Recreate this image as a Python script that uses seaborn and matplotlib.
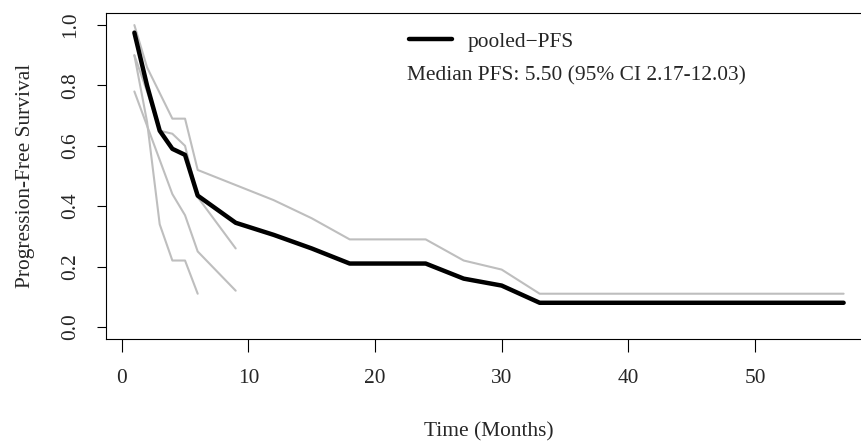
import pandas as pd
import matplotlib
matplotlib.use("Agg")
import matplotlib.pyplot as plt
import seaborn as sns

# per-study PFS curves (months, survival)
study_a_time = [1, 2, 4, 5, 6, 9, 12, 15, 18, 24, 27, 30, 33, 57]
study_a_surv = [1.00, 0.86, 0.69, 0.69, 0.52, 0.47, 0.42, 0.36, 0.29, 0.29, 0.22, 0.19, 0.11, 0.11]
study_b_time = [1, 2, 3, 4, 5, 6, 9]
study_b_surv = [0.90, 0.78, 0.65, 0.64, 0.60, 0.43, 0.26]
study_c_time = [1, 4, 5, 6, 9]
study_c_surv = [0.78, 0.44, 0.37, 0.25, 0.12]
study_d_time = [1, 2, 3, 4, 5, 6]
study_d_surv = [0.90, 0.68, 0.34, 0.22, 0.22, 0.11]

# pooled curve
pooled_time = [1, 2, 3, 4, 5, 6, 9, 12, 15, 18, 24, 27, 30, 33, 57]
pooled_surv = [0.975, 0.80, 0.65, 0.59, 0.57, 0.435, 0.345, 0.305, 0.26, 0.21, 0.21, 0.16, 0.137, 0.08, 0.08]

x_ticks = [0, 10, 20, 30, 40, 50]
y_ticks = [0.0, 0.2, 0.4, 0.6, 0.8, 1.0]
median_text = "Median PFS: 5.50 (95% CI 2.17-12.03)"

studies = pd.concat([
    pd.DataFrame({"time": study_a_time, "surv": study_a_surv, "study": "A"}),
    pd.DataFrame({"time": study_b_time, "surv": study_b_surv, "study": "B"}),
    pd.DataFrame({"time": study_c_time, "surv": study_c_surv, "study": "C"}),
    pd.DataFrame({"time": study_d_time, "surv": study_d_surv, "study": "D"}),
])
pooled = pd.DataFrame({"time": pooled_time, "surv": pooled_surv})

sns.set_style("ticks")
plt.rcParams["font.family"] = ["Liberation Serif", "DejaVu Serif"]
fs = 15.4

fig = plt.figure(figsize=(8.62, 4.41), dpi=100)
ax = fig.add_axes([106 / 862, 102 / 441, 766 / 862, 326 / 441])

sns.lineplot(data=studies, x="time", y="surv", units="study", estimator=None,
             color="#bebebe", linewidth=1.5, ax=ax, legend=False)
sns.lineplot(data=pooled, x="time", y="surv", color="black", linewidth=3.2,
             label="pooled\u2212PFS", ax=ax)

ax.set_xlim(-1.24, 59.24)
ax.set_ylim(-0.04, 1.04)
ax.set_xticks(x_ticks)
ax.set_yticks(y_ticks)
ax.set_yticklabels([f"{v:.1f}" for v in y_ticks], rotation=90, va="center")
ax.tick_params(axis="x", length=9.5, width=0.8, pad=12, labelsize=fs, color="black")
ax.tick_params(axis="y", length=6.5, width=0.8, pad=12, labelsize=fs, color="black")
for s in ax.spines.values():
    s.set_color("black")
    s.set_linewidth(0.8)

ax.set_xlabel("Time (Months)", fontsize=fs, labelpad=25)
ax.set_ylabel("Progression-Free Survival", fontsize=fs, labelpad=19)

ax.legend(loc="upper left", bbox_to_anchor=((409 - 106) / 766, (339 - 32) / 326),
          frameon=False, fontsize=fs, handlelength=2.0, handletextpad=0.75,
          borderpad=0, borderaxespad=0)
ax.text((407 - 106) / 766, (339 - 76) / 326, median_text, transform=ax.transAxes,
        fontsize=fs, va="center", ha="left")

fig.savefig("out.png", dpi=100)
